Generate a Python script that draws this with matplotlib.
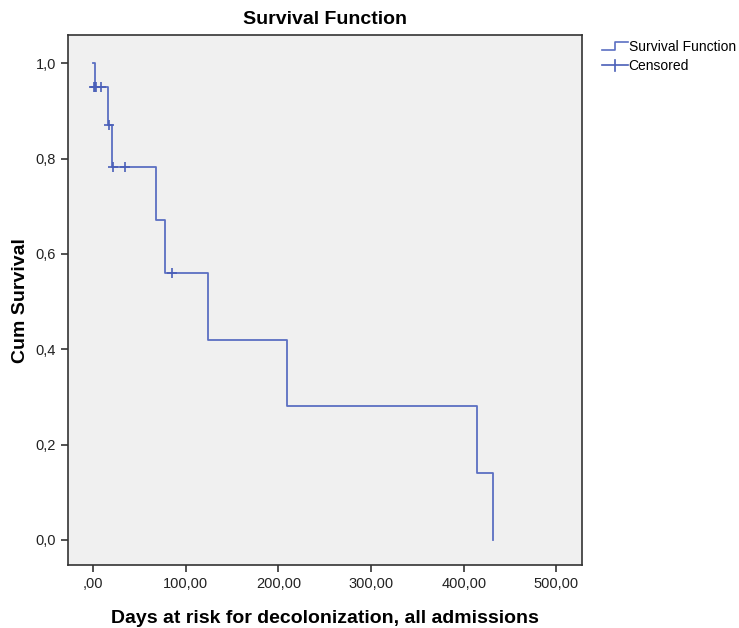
# Kaplan-Meier 生存曲線 (SPSS風) を再現するスクリプト

import matplotlib
matplotlib.use("Agg")
import matplotlib.pyplot as plt
from matplotlib.legend_handler import HandlerBase
from matplotlib.lines import Line2D

plt.rcParams["font.family"] = ["Liberation Sans", "DejaVu Sans"]

# --- データ ---
# 曲線の段差 (時間, その時点以降の生存率)
step_times = [0, 2, 16, 20, 68, 78, 124, 209, 414, 432]
step_surv = [1.0, 0.95, 0.87, 0.783, 0.672, 0.56, 0.42, 0.28, 0.14, 0.0]

# 打ち切り
cens_times = [1, 2, 3, 9, 17, 22, 35, 85]
cens_surv = [0.95, 0.95, 0.95, 0.95, 0.87, 0.783, 0.783, 0.56]

x_ticks = [0, 100, 200, 300, 400, 500]
x_labels = [",00", "100,00", "200,00", "300,00", "400,00", "500,00"]
y_ticks = [0.0, 0.2, 0.4, 0.6, 0.8, 1.0]
y_labels = ["0,0", "0,2", "0,4", "0,6", "0,8", "1,0"]

line_color = "#5b6fc2"


# 凡例用の階段型ハンドル
class StepHandler(HandlerBase):
    def create_artists(self, legend, orig_handle, xdescent, ydescent,
                       width, height, fontsize, trans):
        x0, y0 = -xdescent, -ydescent
        xs = [x0, x0 + width * 0.5, x0 + width * 0.5, x0 + width]
        ys = [y0 + height * 0.1, y0 + height * 0.1,
              y0 + height * 0.9, y0 + height * 0.9]
        return [Line2D(xs, ys, color=orig_handle.get_color(), lw=1.2, transform=trans)]


# 凡例用の打ち切りハンドル (横線 + 縦線)
class CensorHandler(HandlerBase):
    def create_artists(self, legend, orig_handle, xdescent, ydescent,
                       width, height, fontsize, trans):
        x0, y0 = -xdescent, -ydescent
        c = orig_handle.get_color()
        h = Line2D([x0, x0 + width], [y0 + height / 2] * 2, color=c, lw=1.2, transform=trans)
        v = Line2D([x0 + width / 2] * 2, [y0 - height * 0.05, y0 + height * 1.05],
                   color=c, lw=1.2, transform=trans)
        return [h, v]


fig = plt.figure(figsize=(7.39, 6.28), dpi=100)
ax = fig.add_axes([0.092, 0.100, 0.696, 0.844])
ax.set_facecolor("#f0f0f0")

surv_line, = ax.step(step_times, step_surv, where="post", color=line_color,
                     lw=1.3, label="Survival Function")
cens_line, = ax.plot(cens_times, cens_surv, linestyle="none", marker="+",
                     markersize=7, markeredgewidth=1.2, color="#4a5fb8",
                     label="Censored")

ax.set_xlim(-27, 528)
ax.set_ylim(-0.053, 1.059)
ax.set_xticks(x_ticks)
ax.set_xticklabels(x_labels)
ax.set_yticks(y_ticks)
ax.set_yticklabels(y_labels)
ax.tick_params(axis="both", direction="out", length=5, width=1.2,
               labelsize=10.5, colors="#333333", labelcolor="#222222")
for s in ax.spines.values():
    s.set_color("#333333")
    s.set_linewidth(1.2)

ax.set_xlabel("Days at risk for decolonization, all admissions",
              fontsize=14, fontweight="bold", labelpad=14)
ax.set_ylabel("Cum Survival", fontsize=14, fontweight="bold", labelpad=5)
ax.set_title("Survival Function", fontsize=14, fontweight="bold", pad=8)

fig.legend([surv_line, cens_line], ["Survival Function", "Censored"],
           loc="upper left", bbox_to_anchor=(0.814, 0.936), frameon=False,
           fontsize=10, handlelength=1.9, handletextpad=0.05,
           labelspacing=0.35, borderaxespad=0, borderpad=0,
           handler_map={surv_line: StepHandler(), cens_line: CensorHandler()})

fig.savefig("out.png", dpi=100, facecolor="white")
